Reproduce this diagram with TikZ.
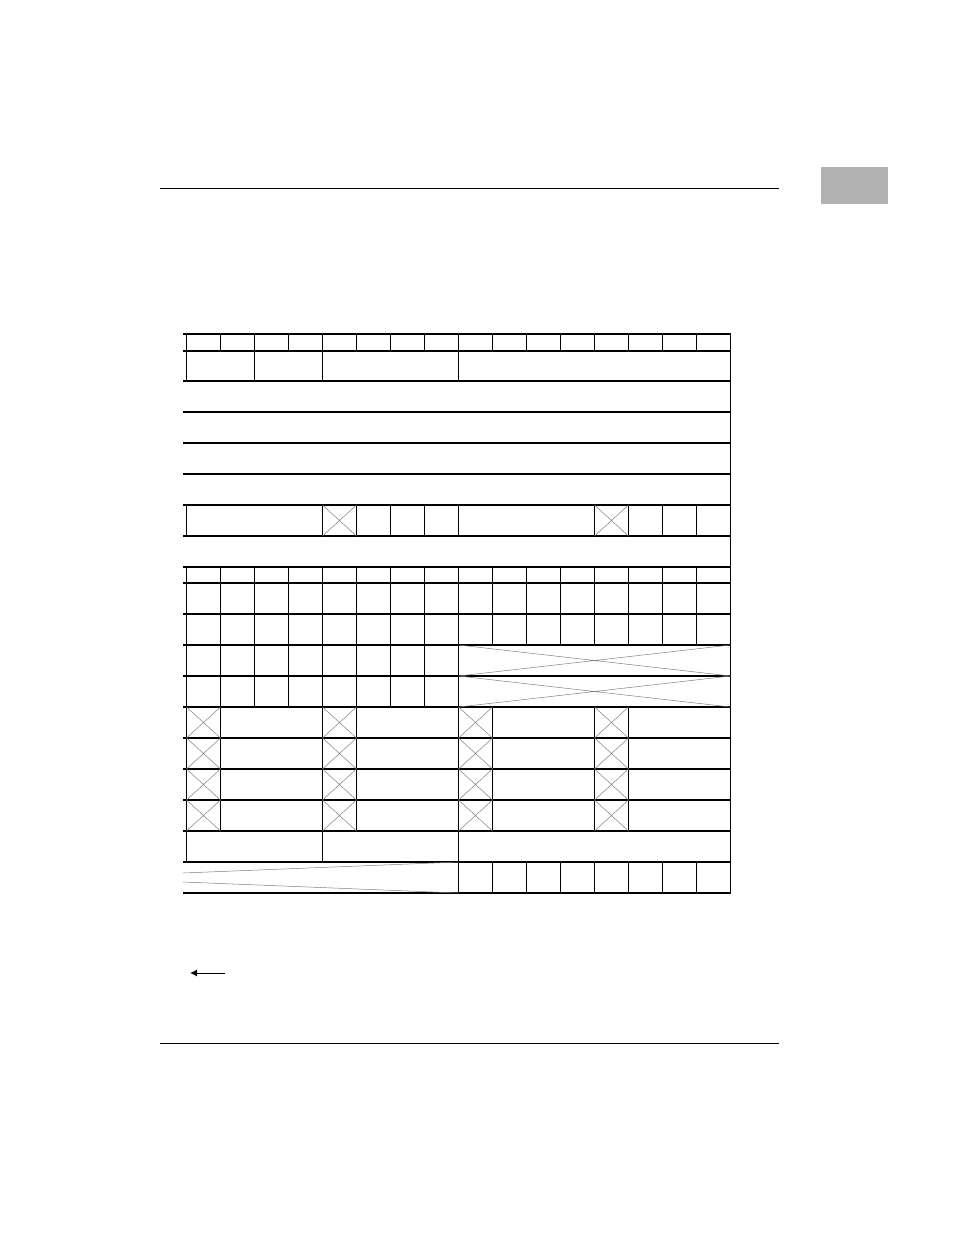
\documentclass[tikz,border=0pt]{standalone}
\usepackage{tikz}
\usetikzlibrary{arrows.meta}

\begin{document}
\begin{tikzpicture}[x=1pt,y=-1pt,>={Latex[length=7pt,width=7pt]},
  rule/.style={line width=1pt},
  grid/.style={line width=1.2pt},
  cross/.style={gray,line width=0.5pt}]
\useasboundingbox (0,0) rectangle (954,1235);
% page rules and tab
\draw[rule] (160,188) -- (779,188);
\draw[rule] (160,1043) -- (779,1043);
\fill[black!30] (821,167) rectangle (888,204);
% horizontal lines
\foreach \y in {334,351,381,412,443,474,505,536,567,583,614,645,676,707,738,769,800,831,862,893}
  \draw[grid] (183,\y) -- (730.5,\y);
% outer edges
\draw[grid] (730.5,334) -- (730.5,893);
\draw[grid] (186.5,334) -- (186.5,381);
\draw[grid] (186.5,505) -- (186.5,536);
\draw[grid] (186.5,567) -- (186.5,862);
% cell dividers
\foreach \i in {1,...,15} \draw[grid] (186.5+34*\i,334) -- (186.5+34*\i,351);
\foreach \i in {2,4,8} \draw[grid] (186.5+34*\i,351) -- (186.5+34*\i,381);
\foreach \i in {4,5,6,7,8,12,13,14,15} \draw[grid] (186.5+34*\i,505) -- (186.5+34*\i,536);
\foreach \i in {1,...,15} \draw[grid] (186.5+34*\i,567) -- (186.5+34*\i,645);
\foreach \i in {1,...,8} \draw[grid] (186.5+34*\i,645) -- (186.5+34*\i,707);
\foreach \i in {1,4,5,8,9,12,13} \draw[grid] (186.5+34*\i,707) -- (186.5+34*\i,831);
\foreach \i in {4,8} \draw[grid] (186.5+34*\i,831) -- (186.5+34*\i,862);
\foreach \i in {8,...,15} \draw[grid] (186.5+34*\i,862) -- (186.5+34*\i,893);
% reserved cells
\foreach \i in {4,12}
  \draw[cross] (186.5+34*\i,505) -- (220.5+34*\i,536) (186.5+34*\i,536) -- (220.5+34*\i,505);
\foreach \y in {645,676}
  \draw[cross] (458.5,\y) -- (730.5,\y+31) (458.5,\y+31) -- (730.5,\y);
\foreach \y in {707,738,769,800}
  \foreach \i in {0,4,8,12}
    \draw[cross] (186.5+34*\i,\y) -- (220.5+34*\i,\y+31) (186.5+34*\i,\y+31) -- (220.5+34*\i,\y);
\draw[cross] (183,873) -- (458.5,862);
\draw[cross] (183,882) -- (458.5,893);
% direction arrow
\coordinate (arrowstart) at (225,973);
\coordinate (arrowend) at (190,973);
\draw[->,line width=1pt] (arrowstart) -- (arrowend);
\end{tikzpicture}
\end{document}
